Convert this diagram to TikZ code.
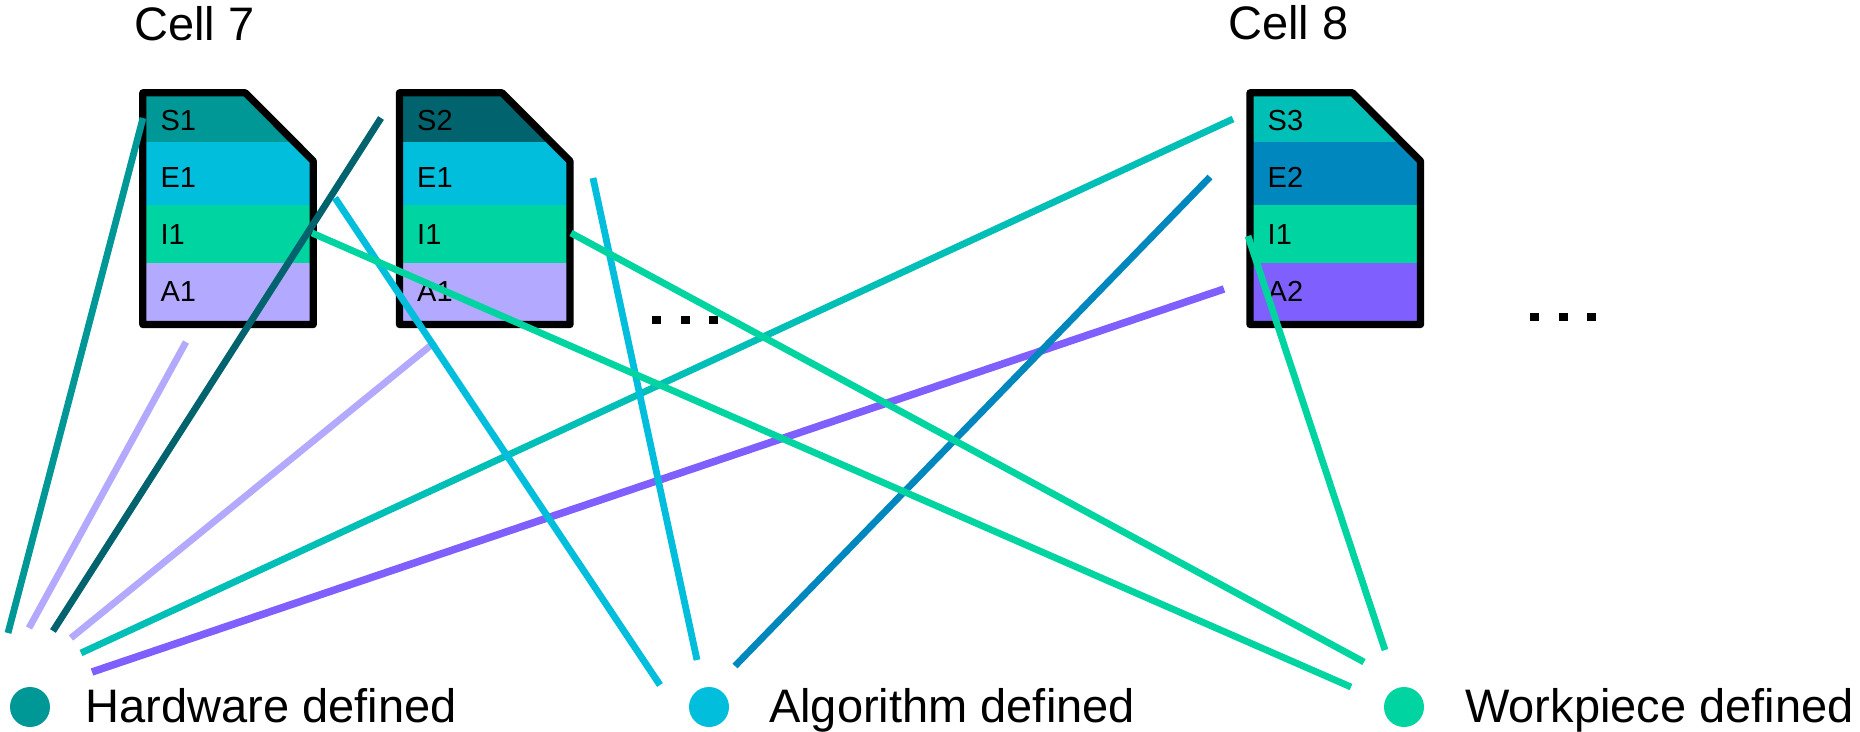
\documentclass[tikz,border=0pt]{standalone}
\usepackage{fontspec}
\setmainfont{Liberation Sans}
\definecolor{cS1}{HTML}{009797}
\definecolor{cE1}{HTML}{00BEDC}
\definecolor{cI1}{HTML}{00D4A0}
\definecolor{cA1}{HTML}{B3A9FF}
\definecolor{cS2}{HTML}{00636E}
\definecolor{cS3}{HTML}{00BFB6}
\definecolor{cE2}{HTML}{0088BE}
\definecolor{cA2}{HTML}{805FFF}
\tikzset{
  cardborder/.style={draw=black,line width=7.3pt,line join=round},
  cardlabel/.style={anchor=base west,inner sep=0pt,font=\fontsize{29}{31}\selectfont},
  bigtext/.style={anchor=base west,inner sep=0pt,font=\fontsize{47}{52}\selectfont},
  link/.style={line width=6.8pt},
  legdot/.style={circle,minimum size=40pt,inner sep=0pt,draw=none},
  dotsq/.style={fill=black,minimum size=8.7pt,inner sep=0pt,draw=none,rectangle}
}
\begin{document}
\begin{tikzpicture}[x=1pt,y=-1pt]
\useasboundingbox (0,0) rectangle (1860,731);
% cards
\foreach \x/\n/\ca/\cb/\cc/\cd/\la/\lb/\lc/\ld in {
  139.3/ca/cS1/cE1/cI1/cA1/S1/E1/I1/A1,
  396/cb/cS2/cE1/cI1/cA1/S2/E1/I1/A1,
  1246.5/cc/cS3/cE2/cI1/cA2/S3/E2/I1/A2}{
  \begin{scope}[shift={(\x,0)}]
    \begin{scope}
      \clip (3.5,92.8) -- (106,92.8) -- (174,161) -- (174,324.5) -- (3.5,324.5) -- cycle;
      \fill[\ca] (0,85) rectangle (180,141.7);
      \fill[\cb] (0,141.7) rectangle (180,205);
      \fill[\cc] (0,205) rectangle (180,262.7);
      \fill[\cd] (0,262.7) rectangle (180,330);
    \end{scope}
    \draw[cardborder] (3.5,92.8) -- (106,92.8) -- (174,161) -- (174,324.5) -- (3.5,324.5) -- cycle;
    \node[cardlabel] (\n-s) at (21,130.7) {\la};
    \node[cardlabel] (\n-e) at (21,187.3) {\lb};
    \node[cardlabel] (\n-i) at (21,244.7) {\lc};
    \node[cardlabel] (\n-a) at (21,301.7) {\ld};
  \end{scope}
}
% titles
\node[bigtext] (cell7) at (134,40) {Cell 7};
\node[bigtext] (cell8) at (1228,39.5) {Cell 8};
% ellipsis
\node[dotsq] (d1) at (656.7,320) {};
\node[dotsq] (d2) at (685.3,320) {};
\node[dotsq] (d3) at (713.7,320) {};
\node[dotsq] (d4) at (1534.5,317) {};
\node[dotsq] (d5) at (1563.3,317) {};
\node[dotsq] (d6) at (1591.8,317) {};
% legend
\node[legdot,fill=cS1] (hw) at (30,707) {};
\node[legdot,fill=cE1] (al) at (709,707) {};
\node[legdot,fill=cI1] (wp) at (1404,707) {};
\node[bigtext] (hwt) at (85.5,722.7) {Hardware defined};
\node[bigtext] (alt) at (769,722.7) {Algorithm defined};
\node[bigtext] (wpt) at (1465,722.7) {Workpiece defined};
% connector endpoints
\coordinate (p1a) at (143,118);   \coordinate (p1b) at (8,633);
\coordinate (p2a) at (186,342);   \coordinate (p2b) at (29,628);
\coordinate (p3a) at (381,118);   \coordinate (p3b) at (53,631);
\coordinate (p4a) at (435,342);   \coordinate (p4b) at (71,638);
\coordinate (p5a) at (1233,119);  \coordinate (p5b) at (81,653);
\coordinate (p6a) at (1224,289);  \coordinate (p6b) at (92,672);
\coordinate (p7a) at (335,198);   \coordinate (p7b) at (660,685);
\coordinate (p8a) at (593,178);   \coordinate (p8b) at (697,660);
\coordinate (p9a) at (1210,177);  \coordinate (p9b) at (735,666);
\coordinate (p10a) at (312,233);  \coordinate (p10b) at (1351,687);
\coordinate (p11a) at (571,233);  \coordinate (p11b) at (1364,662);
\coordinate (p12a) at (1248,236); \coordinate (p12b) at (1385,650);
% connectors
\draw[link,cS1] (p1a) -- (p1b);
\draw[link,cA1] (p2a) -- (p2b);
\draw[link,cS2] (p3a) -- (p3b);
\draw[link,cA1] (p4a) -- (p4b);
\draw[link,cS3] (p5a) -- (p5b);
\draw[link,cA2,line width=7.5pt] (p6a) -- (p6b);
\draw[link,cE1] (p7a) -- (p7b);
\draw[link,cE1] (p8a) -- (p8b);
\draw[link,cE2] (p9a) -- (p9b);
\draw[link,cI1] (p10a) -- (p10b);
\draw[link,cI1] (p11a) -- (p11b);
\draw[link,cI1] (p12a) -- (p12b);
\end{tikzpicture}
\end{document}
